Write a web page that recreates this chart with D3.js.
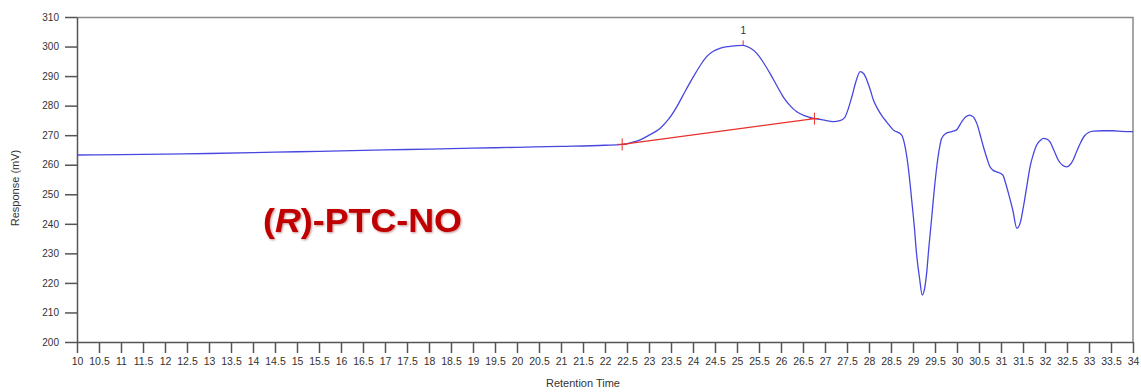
<!DOCTYPE html>
<html>
<head>
<meta charset="utf-8">
<script src="https://cdn.jsdelivr.net/npm/d3@7"></script>
<style>
  body { margin: 0; background: #fff; overflow: hidden; }
  svg { display: block; }
</style>
</head>
<body>
<div id="chrom"></div>
<script>
// retention time (min) and detector response (mV)
const times = [10, 11, 12, 13, 14, 15, 16, 17, 18, 19, 20, 21, 22, 22.39,
  22.6, 22.8, 23.0, 23.25, 23.45, 23.63, 23.82, 24.01, 24.16, 24.31, 24.46, 24.61, 24.8, 25.0, 25.14,
  25.3, 25.45, 25.6, 25.75, 25.9, 26.05, 26.2, 26.36, 26.55, 26.74, 26.95, 27.19,
  27.34, 27.45, 27.53, 27.61, 27.7, 27.8, 27.88, 27.95, 28.03, 28.1, 28.2, 28.29,
  28.4, 28.55, 28.74, 28.8, 28.86, 28.92, 28.97, 29.03, 29.08, 29.15, 29.21, 29.26,
  29.31, 29.36, 29.42, 29.48, 29.54, 29.6, 29.65, 29.75, 29.88, 29.99, 30.11, 30.2, 30.28,
  30.37, 30.45, 30.52, 30.6, 30.68, 30.75, 30.83, 30.9, 31.04, 31.1, 31.17, 31.27, 31.36,
  31.44, 31.51, 31.59, 31.66, 31.74, 31.81, 31.9, 31.96, 32.04, 32.11, 32.2, 32.3, 32.4,
  32.49, 32.57, 32.64, 32.72, 32.8, 32.9, 33.0, 33.1, 33.3, 33.55, 33.75, 34]
const response = [263.3, 263.4, 263.6, 263.8, 264.1, 264.4, 264.7, 265.0, 265.3, 265.6, 265.9, 266.2, 266.6, 266.9,
  267.5, 268.4, 270.0, 272.3, 275.5, 279.6, 284.8, 289.8, 293.5, 296.6, 298.4, 299.4, 300.0, 300.3, 300.4,
  299.5, 297.7, 294.6, 290.9, 286.9, 283.0, 280.1, 277.9, 276.5, 275.7, 275.2, 274.6,
  274.9, 276.0, 279.0, 283.0, 288.0, 291.5, 290.8, 288.7, 285.3, 281.9, 278.8, 276.6,
  274.5, 271.8, 270.1, 267.5, 262.7, 255.5, 248.1, 239.0, 230.0, 221.5, 215.9, 217.8,
  223.3, 232.0, 241.3, 251.0, 259.3, 265.5, 268.9, 270.6, 271.2, 271.8, 274.6, 276.2, 276.8,
  276.2, 274.0, 270.5, 266.1, 262.2, 259.3, 258.0, 257.6, 256.5, 254.0, 250.3, 244.5, 238.5,
  240.5, 245.8, 253.0, 259.3, 263.8, 266.7, 268.3, 268.9, 268.7, 267.8, 265.0, 261.6, 259.8,
  259.3, 260.0, 261.6, 264.5, 267.2, 269.8, 271.0, 271.4, 271.5, 271.5, 271.3, 271.2]

// integration of peak 1
const peakStart = [22.39, 266.9]
const peakEnd = [26.76, 275.6]
const peakApex = [25.14, 300.4]
const peakLabel = "1"

const xTicks = d3.range(10, 34.01, 0.5)
const yTicks = d3.range(200, 310.01, 10)

const width = 1141
const height = 392
const margin = {top: 17, right: 8, bottom: 50, left: 77}
const innerWidth = width - margin.left - margin.right
const innerHeight = height - margin.top - margin.bottom

var svg = d3.select("#chrom")
            .append("svg")
            .attr("width", width)
            .attr("height", height)
            .style("font-family", "Arial, 'Liberation Sans', sans-serif")

var g = svg.append("g")
           .attr("transform", `translate(${margin.left},${margin.top})`)

let xScale = d3.scaleLinear()
      .domain([10, 34])
      .range([0, innerWidth])

var yScale = d3.scaleLinear()
      .domain([200, 310])
      .range([innerHeight, 0])

// frame on the top and right
g.append("path")
  .attr("d", `M0,0.5H${innerWidth}V${innerHeight}`)
  .attr("fill", "none")
  .attr("stroke", "#8a8a8a")
  .attr("stroke-width", 1.5)

var xAxis = d3.axisBottom(xScale)
              .tickValues(xTicks)
              .tickSize(11)
              .tickSizeOuter(0)
              .tickFormat(d3.format("~g"))
var yAxis = d3.axisLeft(yScale)
              .tickValues(yTicks)
              .tickSize(12)
              .tickSizeOuter(0)

var gX = g.append("g")
          .attr("class", "x axis")
          .attr("transform", `translate(0, ${innerHeight})`)
          .call(xAxis)

var gY = g.append("g")
          .attr("class", "y axis")
          .call(yAxis)

g.selectAll(".axis path, .axis line")
  .attr("stroke", "#555")
  .attr("stroke-width", 1.5)
g.selectAll(".axis text")
  .attr("fill", "#333")
  .attr("font-size", 10)
gX.selectAll("text")
  .attr("dy", "0.9em")
  .attr("font-size", 10.5)
  .attr("font-family", "'Liberation Sans Narrow', 'Arial Narrow', Arial, sans-serif")
gY.selectAll("text").attr("x", -18)

// the chromatogram
const trace = times.map((t, i) => [t, response[i]])
var line = d3.line()
    .x(d => xScale(d[0]))
    .y(d => yScale(d[1]))
    .curve(d3.curveMonotoneX)

g.append("path")
  .datum(trace)
  .attr("fill", "none")
  .attr("stroke", "#4747e0")
  .attr("stroke-width", 1.3)
  .attr("d", line)

// baseline of the integrated peak
g.append("line")
  .attr("x1", xScale(peakStart[0]))
  .attr("y1", yScale(peakStart[1]))
  .attr("x2", xScale(peakEnd[0]))
  .attr("y2", yScale(peakEnd[1]))
  .attr("stroke", "#e8302a")
  .attr("stroke-width", 1.2)

g.selectAll(".bl-mark")
  .data([peakStart, peakEnd])
  .enter()
  .append("line")
  .attr("class", "bl-mark")
  .attr("x1", d => xScale(d[0]))
  .attr("x2", d => xScale(d[0]))
  .attr("y1", d => yScale(d[1]) - 6)
  .attr("y2", d => yScale(d[1]) + 6)
  .attr("stroke", "#e8302a")
  .attr("stroke-width", 1)

g.selectAll(".bl-mark-h")
  .data([peakStart, peakEnd])
  .enter()
  .append("line")
  .attr("class", "bl-mark-h")
  .attr("x1", d => xScale(d[0]) - 5)
  .attr("x2", d => xScale(d[0]) + 5)
  .attr("y1", d => yScale(d[1]))
  .attr("y2", d => yScale(d[1]))
  .attr("stroke", "#e8302a")
  .attr("stroke-width", 1)

g.append("line")
  .attr("x1", xScale(peakApex[0]))
  .attr("x2", xScale(peakApex[0]))
  .attr("y1", yScale(peakApex[1]) - 5)
  .attr("y2", yScale(peakApex[1]))
  .attr("stroke", "#e8302a")
  .attr("stroke-width", 1)

g.append("text")
  .attr("x", xScale(peakApex[0]))
  .attr("y", yScale(peakApex[1]) - 11)
  .attr("text-anchor", "middle")
  .attr("font-size", 10)
  .attr("fill", "#333")
  .text(peakLabel)

// axis titles
svg.append("text")
  .attr("x", 583)
  .attr("y", height - 5)
  .attr("text-anchor", "middle")
  .attr("font-size", 11)
  .attr("fill", "#333")
  .text("Retention Time")

svg.append("text")
  .attr("transform", `translate(19, 188) rotate(-90)`)
  .attr("text-anchor", "middle")
  .attr("font-size", 11)
  .attr("fill", "#333")
  .text("Response (mV)")

// sample name
var title = svg.append("text")
  .attr("x", 263)
  .attr("y", 232)
  .attr("font-size", 33)
  .attr("font-weight", "bold")
  .attr("fill", "#c00000")
  .attr("textLength", 199)
  .attr("lengthAdjust", "spacingAndGlyphs")
  .style("filter", "drop-shadow(1px 1px 1px rgba(120,0,0,0.45))")
title.append("tspan").text("(")
title.append("tspan").attr("font-style", "italic").text("R")
title.append("tspan").text(")-PTC-NO")
</script>
</body>
</html>
